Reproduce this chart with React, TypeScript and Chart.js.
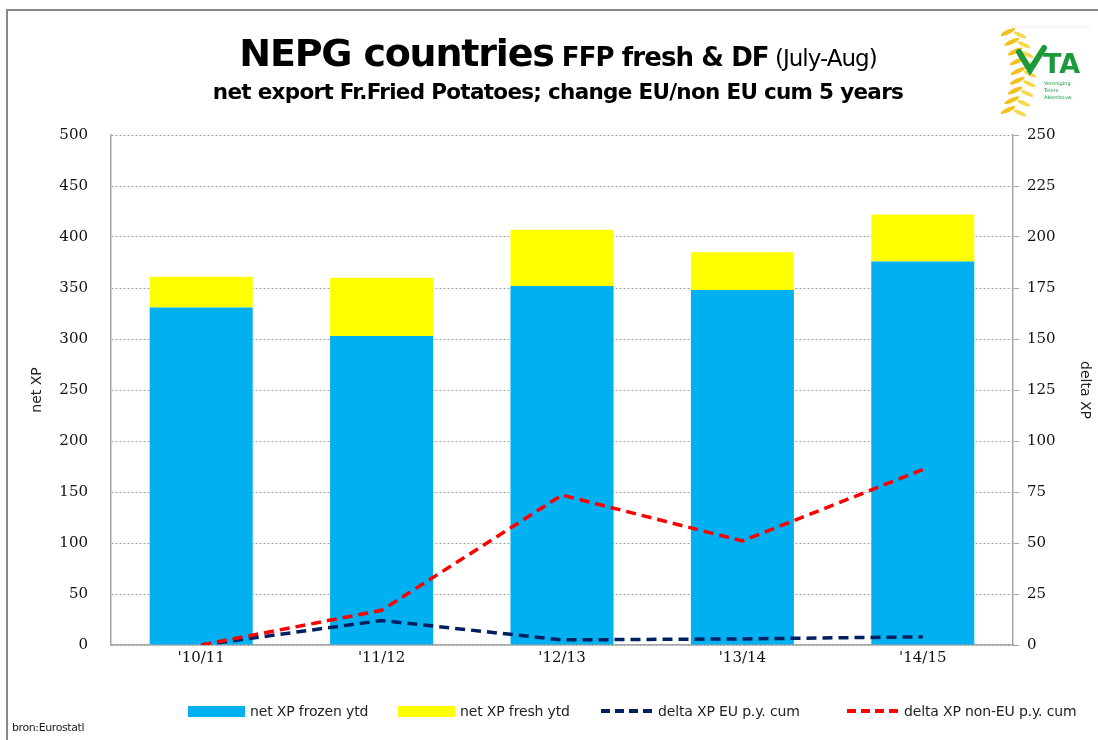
import React, { useEffect, useRef } from "react";
import { Chart, registerables } from "chart.js";

Chart.register(...registerables);

const categories = ["'10/11", "'11/12", "'12/13", "'13/14", "'14/15"];
const frozenYtd = [331, 303, 352, 348, 376];
const freshYtd = [30, 57, 55, 37, 46];
const deltaEU = [0, 12, 2.5, 3, 4];
const deltaNonEU = [0, 17, 73.5, 51, 86];
const leftTicks = [0, 50, 100, 150, 200, 250, 300, 350, 400, 450, 500];
const rightTicks = [0, 25, 50, 75, 100, 125, 150, 175, 200, 225, 250];

const tickFont = { family: "'DejaVu Serif', serif", size: 15 };
const sansFont = "'DejaVu Sans', sans-serif";

function Logo() {
  const ears = [] as any[];
  for (let i = 0; i < 9; i++) {
    const t = i / 8;
    const cx = 1012 + 10 * Math.sin(t * Math.PI) - 4;
    const cy = 32 + t * 78;
    ears.push(
      <ellipse key={"l" + i} cx={cx} cy={cy} rx={8} ry={2.2} fill="#f2c21b" transform={`rotate(-25 ${cx} ${cy})`} />
    );
    ears.push(
      <ellipse key={"r" + i} cx={cx + 12} cy={cy + 3} rx={7} ry={2} fill="#f7d84a" transform={`rotate(25 ${cx + 12} ${cy + 3})`} />
    );
  }
  return (
    <svg width={1098} height={740} style={{ position: "absolute", left: 0, top: 0, pointerEvents: "none" }}>
      <line x1={1008} y1={27} x2={1092} y2={27} stroke="#eef0f4" strokeWidth={1} />
      {ears}
      <path d="M1019 52 L1030 70 L1044 48" stroke="#1a9a3a" strokeWidth={6} fill="none" strokeLinecap="round" />
      <text x={1043} y={73} fontFamily={sansFont} fontWeight="bold" fontSize={27} fill="#1a9a3a">TA</text>
      <text x={1044} y={85} fontFamily={sansFont} fontSize={5} fill="#1a9a3a">Vereniging</text>
      <text x={1044} y={92} fontFamily={sansFont} fontSize={5} fill="#1a9a3a">Telers</text>
      <text x={1044} y={99} fontFamily={sansFont} fontSize={5} fill="#1a9a3a">Akkerbouw</text>
    </svg>
  );
}

function LegendItem({ kind, color, label, left }: any) {
  return (
    <div style={{ position: "absolute", left, top: 702, height: 18, display: "flex", alignItems: "center", whiteSpace: "nowrap" }}>
      {kind === "box" ? (
        <div style={{ width: 57, height: 11, background: color, marginRight: 5 }} />
      ) : (
        <svg width={56} height={10} style={{ marginRight: 2 }}>
          <line x1={1} y1={5} x2={56} y2={5} stroke={color} strokeWidth={4} strokeDasharray="9 5" />
        </svg>
      )}
      <span style={{ fontFamily: sansFont, fontSize: 14, color: "#222", letterSpacing: -0.15 }}>{label}</span>
    </div>
  );
}

export default function App() {
  const ref = useRef<HTMLCanvasElement>(null);

  useEffect(() => {
    const ctx = ref.current!.getContext("2d")!;
    const chart = new Chart(ctx, {
      type: "bar",
      data: {
        labels: categories,
        datasets: [
          {
            type: "line",
            label: "delta XP EU p.y. cum",
            data: deltaEU,
            yAxisID: "y1",
            borderColor: "#002060",
            borderWidth: 3.5,
            borderDash: [10, 6],
            pointRadius: 0,
            tension: 0,
            fill: false,
            order: 1,
          } as any,
          {
            type: "line",
            label: "delta XP non-EU p.y. cum",
            data: deltaNonEU,
            yAxisID: "y1",
            borderColor: "#ff0000",
            borderWidth: 3.5,
            borderDash: [10, 6],
            pointRadius: 0,
            tension: 0,
            fill: false,
            order: 0,
          } as any,
          {
            label: "net XP frozen ytd",
            data: frozenYtd,
            backgroundColor: "#00b0f0",
            yAxisID: "y",
            stack: "s",
            order: 3,
            barPercentage: 0.571,
            categoryPercentage: 1,
          },
          {
            label: "net XP fresh ytd",
            data: freshYtd,
            backgroundColor: "#ffff00",
            yAxisID: "y",
            stack: "s",
            order: 3,
            barPercentage: 0.571,
            categoryPercentage: 1,
          },
        ],
      },
      options: {
        animation: false,
        responsive: false,
        maintainAspectRatio: false,
        layout: { padding: { left: 29, right: 5, top: 135, bottom: 65 } },
        plugins: { legend: { display: false }, tooltip: { enabled: false }, title: { display: false } },
        scales: {
          x: {
            stacked: true,
            grid: { display: false, drawTicks: false },
            border: { display: true, color: "#a6a6a6", width: 1.5 },
            ticks: { font: tickFont, color: "#111", padding: 4 },
            afterFit: (s: any) => { s.height = 30; },
          },
          y: {
            stacked: true,
            position: "left",
            min: 0,
            max: 500,
            afterBuildTicks: (s: any) => { s.ticks = leftTicks.map((v) => ({ value: v })); },
            grid: { color: "#a0a0a0", lineWidth: 1, drawTicks: false },
            border: { display: true, color: "#a6a6a6", width: 1.5, dash: [2, 2] },
            ticks: { font: tickFont, color: "#111", padding: 23 },
            title: { display: true, text: "net XP", font: { family: sansFont, size: 14 }, color: "#222", padding: { top: 0, bottom: 0 } },
            afterFit: (s: any) => { s.width = 82; },
          },
          y1: {
            stacked: false,
            position: "right",
            min: 0,
            max: 250,
            afterBuildTicks: (s: any) => { s.ticks = rightTicks.map((v) => ({ value: v })); },
            grid: { drawOnChartArea: false, drawTicks: true, tickLength: 6, color: "#a6a6a6" },
            border: { display: true, color: "#a6a6a6", width: 1.5 },
            ticks: { font: tickFont, color: "#111", padding: 8 },
            title: { display: true, text: "delta XP", font: { family: sansFont, size: 14 }, color: "#222", padding: { top: 0, bottom: 0 } },
            afterFit: (s: any) => { s.width = 80; },
          },
        },
      },
    });
    return () => chart.destroy();
  }, []);

  return (
    <div style={{ position: "absolute", left: 0, top: 0, width: 1098, height: 740, background: "#fff", overflow: "hidden" }}>
      <div style={{ position: "absolute", left: 6, top: 9, right: 0, bottom: 0, borderTop: "2px solid #8a8a8a", borderLeft: "2px solid #8a8a8a" }} />
      <canvas ref={ref} width={1098} height={740} style={{ position: "absolute", left: 0, top: 0 }} />
      <div style={{ position: "absolute", left: 0, width: 1098, top: 28, textAlign: "center", whiteSpace: "nowrap", fontFamily: sansFont, color: "#000", lineHeight: "50px", paddingLeft: 18, boxSizing: "border-box" }}>
        <span style={{ fontSize: 38, fontWeight: "bold", letterSpacing: -1.2 }}>NEPG countries</span>
        <span style={{ fontSize: 26, fontWeight: "bold", letterSpacing: -0.9 }}> FFP fresh &amp; DF</span>
        <span style={{ fontSize: 23, letterSpacing: -1 }}> (July-Aug)</span>
      </div>
      <div style={{ position: "absolute", left: 0, width: 1098, top: 79, textAlign: "center", whiteSpace: "nowrap", fontFamily: sansFont, fontWeight: "bold", fontSize: 21.5, letterSpacing: -0.7, color: "#000", paddingLeft: 18, boxSizing: "border-box" }}>
        net export Fr.Fried Potatoes; change EU/non EU cum 5 years
      </div>
      <Logo />
      <LegendItem kind="box" color="#00b0f0" label="net XP frozen ytd" left={188} />
      <LegendItem kind="box" color="#ffff00" label="net XP fresh ytd" left={398} />
      <LegendItem kind="line" color="#002060" label="delta XP EU p.y. cum" left={600} />
      <LegendItem kind="line" color="#ff0000" label="delta XP non-EU p.y. cum" left={846} />
      <div style={{ position: "absolute", left: 12, top: 721, fontFamily: sansFont, fontSize: 11, color: "#222", letterSpacing: -0.4 }}>bron:Eurostatl</div>
    </div>
  );
}
